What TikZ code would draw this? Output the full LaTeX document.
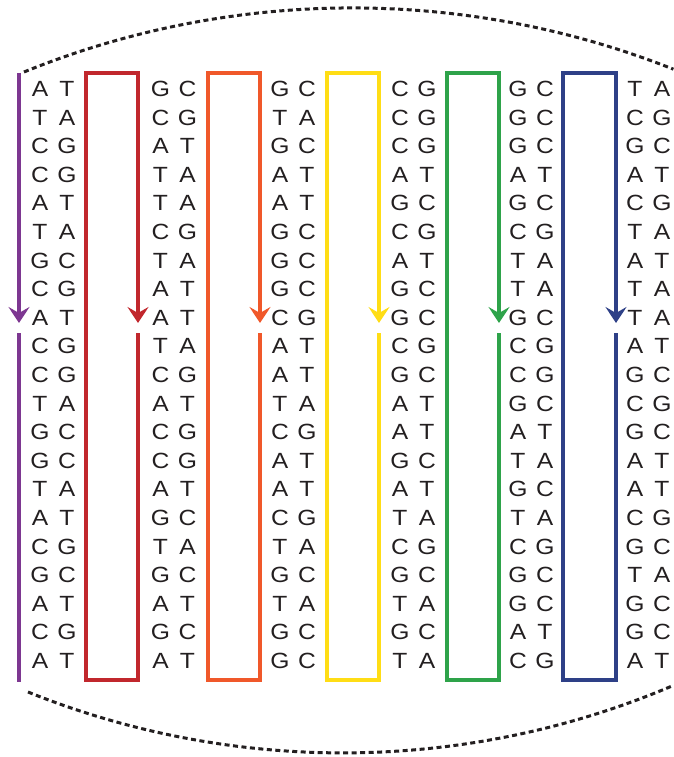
\documentclass[tikz,border=0pt]{standalone}
\usepackage{fontspec}
\setmainfont{Liberation Sans}
\newfontfamily\basefont[FakeStretch=1.12]{Liberation Sans}
\usetikzlibrary{arrows.meta}

\definecolor{ink}{HTML}{231F20}
\definecolor{dnapurple}{RGB}{125,55,145}
\definecolor{dnared}{RGB}{193,39,45}
\definecolor{dnaorange}{RGB}{240,88,42}
\definecolor{dnayellow}{RGB}{255,221,21}
\definecolor{dnagreen}{RGB}{46,163,74}
\definecolor{dnablue}{RGB}{46,64,135}

\newcommand{\pairs}[3]{%
  \foreach \a/\b [count=\r] in {#3} {
    \node [base] (#1a\r) at (#2-13.5, 89+28.6*\r-28.6) {\a};
    \node [base] (#1b\r) at (#2+13.5, 89+28.6*\r-28.6) {\b};
  }}

\begin{document}
\begin{tikzpicture}[x=1pt, y=-1pt]
\tikzstyle{base} = [font=\basefont\fontsize{22}{26}\selectfont, text=ink, inner sep=0pt]
\tikzstyle{strand} = [line width=4pt, -{Stealth[length=16pt,width=21pt,inset=6pt]}]
\tikzstyle{tail} = [line width=4pt]
\tikzstyle{rim} = [ink, line width=3pt, dash pattern=on 5pt off 3.5pt]

\useasboundingbox (0,0) rectangle (673,757);

\pairs{c1}{53.5}{A/T,T/A,C/G,C/G,A/T,T/A,G/C,C/G,A/T,C/G,C/G,T/A,G/C,G/C,T/A,A/T,C/G,G/C,A/T,C/G,A/T}
\pairs{c2}{174}{G/C,C/G,A/T,T/A,T/A,C/G,T/A,A/T,A/T,T/A,C/G,A/T,C/G,C/G,A/T,G/C,T/A,G/C,A/T,G/C,A/T}
\pairs{c3}{293.5}{G/C,T/A,G/C,A/T,A/T,G/C,G/C,G/C,C/G,A/T,A/T,T/A,C/G,A/T,A/T,C/G,T/A,G/C,T/A,G/C,G/C}
\pairs{c4}{413.5}{C/G,C/G,C/G,A/T,G/C,C/G,A/T,G/C,G/C,C/G,G/C,A/T,A/T,G/C,A/T,T/A,C/G,G/C,T/A,G/C,T/A}
\pairs{c5}{531.5}{G/C,G/C,G/C,A/T,G/C,C/G,T/A,T/A,G/C,C/G,C/G,G/C,A/T,T/A,G/C,T/A,C/G,G/C,G/C,A/T,C/G}
\pairs{c6}{648.5}{T/A,C/G,G/C,A/T,C/G,T/A,A/T,T/A,T/A,A/T,G/C,C/G,G/C,A/T,A/T,C/G,G/C,T/A,G/C,G/C,A/T}

\draw [strand, dnapurple] (19,73) -- (19,323);
\draw [tail, dnapurple] (19,333) -- (19,682);
\draw [strand, dnared] (138,333) -- (138,680) -- (86,680) -- (86,73) -- (138,73) -- (138,323);
\draw [strand, dnaorange] (260,333) -- (260,680) -- (208,680) -- (208,73) -- (260,73) -- (260,323);
\draw [strand, dnayellow] (379,333) -- (379,680) -- (327,680) -- (327,73) -- (379,73) -- (379,323);
\draw [strand, dnagreen] (499,333) -- (499,680) -- (447,680) -- (447,73) -- (499,73) -- (499,323);
\draw [strand, dnablue] (616,333) -- (616,680) -- (563,680) -- (563,73) -- (616,73) -- (616,323);

\draw [rim] (24,72) arc [start angle=-112.1, end angle=-68.4, radius=872.5];
\draw [rim] (28,692) arc [start angle=111.9, end angle=67, radius=843.8];

\end{tikzpicture}
\end{document}
